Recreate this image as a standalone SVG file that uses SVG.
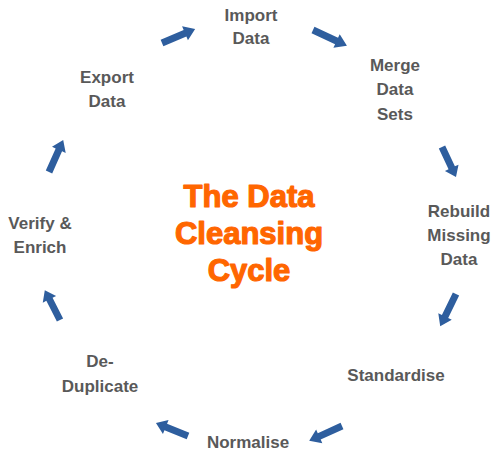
<svg xmlns="http://www.w3.org/2000/svg" xmlns:xlink="http://www.w3.org/1999/xlink" width="500" height="468" viewBox="0 0 500 468">
<style>
.lbl{font-family:"Liberation Sans",Arial,sans-serif;font-weight:bold;font-size:17px;fill:#595959;text-anchor:middle}
.title{font-family:"Liberation Sans",Arial,sans-serif;font-weight:bold;font-size:31px;fill:#FF6600;stroke:#FF6600;stroke-width:1.2;stroke-linejoin:round;text-anchor:middle}
.arr{fill:#2E5E9E}
</style>
<defs>
<path id="arrow" d="M0,-3.5 L25,-3.5 L25,-7.5 L36,0 L25,7.5 L25,3.5 L0,3.5 Z"/>
</defs>
<rect width="500" height="468" fill="#ffffff"/>
<g id="title">
<text class="title" x="249" y="207">The Data</text>
<text class="title" x="249" y="244">Cleansing</text>
<text class="title" x="249" y="281">Cycle</text>
</g>
<g id="import-data"><text class="lbl" x="251" y="21">Import</text><text class="lbl" x="251" y="44">Data</text></g>
<g id="merge-data-sets"><text class="lbl" x="395" y="71">Merge</text><text class="lbl" x="395" y="95">Data</text><text class="lbl" x="395" y="120">Sets</text></g>
<g id="rebuild-missing-data"><text class="lbl" x="459" y="217">Rebuild</text><text class="lbl" x="459" y="241">Missing</text><text class="lbl" x="459" y="265">Data</text></g>
<g id="standardise"><text class="lbl" x="396" y="381">Standardise</text></g>
<g id="normalise"><text class="lbl" x="248" y="448">Normalise</text></g>
<g id="de-duplicate"><text class="lbl" x="100" y="367">De-</text><text class="lbl" x="100" y="392">Duplicate</text></g>
<g id="verify-enrich"><text class="lbl" x="40" y="229">Verify &amp;</text><text class="lbl" x="40" y="253">Enrich</text></g>
<g id="export-data"><text class="lbl" x="107" y="83">Export</text><text class="lbl" x="107" y="107">Data</text></g>
<g id="connectors" class="arr">
<use xlink:href="#arrow" transform="translate(162,43) rotate(-23)"/>
<use xlink:href="#arrow" transform="translate(313,30) rotate(25) scale(1.04,1)"/>
<use xlink:href="#arrow" transform="translate(442,147) rotate(65) scale(0.92,1)"/>
<use xlink:href="#arrow" transform="translate(456,294) rotate(116)"/>
<use xlink:href="#arrow" transform="translate(342,426) rotate(155.6)"/>
<use xlink:href="#arrow" transform="translate(188,436) rotate(202) scale(0.96,1)"/>
<use xlink:href="#arrow" transform="translate(60,320) rotate(243) scale(0.93,1)"/>
<use xlink:href="#arrow" transform="translate(49,172) rotate(-66) scale(0.97,1)"/>
</g>
</svg>
